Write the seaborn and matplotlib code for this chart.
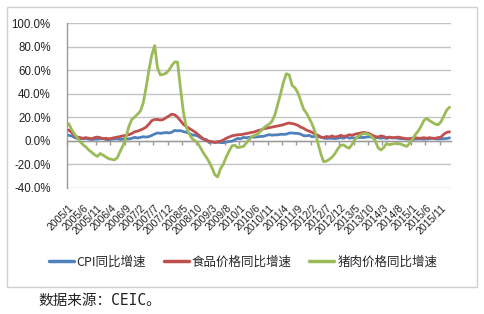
import numpy as np
import pandas as pd
import matplotlib
matplotlib.use("Agg")
import matplotlib.pyplot as plt
from matplotlib.patches import Rectangle
from matplotlib.lines import Line2D
import seaborn as sns

# ---------------- data ----------------
months = [f"{y}/{m}" for y in range(2005, 2016) for m in range(1, 13)] + ["2016/1", "2016/2"]

cpi = [
    4.5, 3.9, 2.7, 1.8, 1.8, 1.6, 1.8, 1.3, 0.9, 1.2, 1.3, 1.6,
    1.9, 0.9, 0.8, 1.2, 1.4, 1.5, 1.0, 1.3, 1.5, 1.4, 1.9, 2.8,
    2.2, 2.7, 3.3, 3.0, 3.4, 4.4, 5.6, 6.5, 6.2, 6.5, 6.9, 6.5,
    7.1, 8.7, 8.3, 8.5, 7.7, 7.1, 6.3, 4.9, 4.6, 4.0, 2.4, 1.2,
    1.0, -1.6, -1.2, -1.5, -1.4, -1.7, -1.8, -1.2, -0.8, -0.5, 0.6, 1.9,
    1.5, 2.7, 2.4, 2.8, 3.1, 2.9, 3.3, 3.5, 3.6, 4.4, 5.1, 4.6,
    4.9, 4.9, 5.4, 5.3, 5.5, 6.4, 6.5, 6.2, 6.1, 5.5, 4.2, 4.1,
    4.5, 3.2, 3.6, 3.4, 3.0, 2.2, 1.8, 2.0, 1.9, 1.7, 2.0, 2.5,
    2.0, 3.2, 2.1, 2.4, 2.1, 2.7, 2.7, 2.6, 3.1, 3.2, 3.0, 2.5,
    2.5, 2.0, 2.4, 1.8, 2.5, 2.3, 2.3, 2.0, 1.6, 1.6, 1.4, 1.5,
    0.8, 1.4, 1.4, 1.5, 1.2, 1.4, 1.6, 2.0, 1.6, 1.3, 1.5, 1.6,
    1.8, 2.3,
]

food = [
    9, 7, 4, 3, 2.5, 2, 2.5, 2, 1.5, 2.5, 3, 2.5,
    1.5, 2, 1.5, 2, 2.5, 3, 3.5, 4, 4.5, 5, 6, 7.5,
    8, 9, 10, 11.5, 14, 17, 18, 18, 17.5, 18, 19.5, 21,
    22.5, 22, 20, 17, 14, 12, 10.5, 9, 7.5, 5.5, 3.5, 1.5,
    0, -0.5, -1, -1.5, -1, -0.5, 0.5, 2, 3, 4, 4.5, 5,
    5, 5.5, 6, 6.5, 7, 7.5, 8.5, 9, 10, 10.5, 11, 11.5,
    12, 12.5, 13, 13.5, 14.5, 15, 14.5, 14, 13, 11.5, 10.5, 9,
    8, 7, 5.5, 4.5, 3, 2.5, 3.5, 3, 4, 3, 3.5, 4.5,
    3.5, 4, 5, 4.5, 5.5, 6, 6.5, 7, 6.5, 6, 4.5, 3.5,
    3, 4, 3.5, 2.5, 3, 2.5, 2.5, 3, 2.5, 2, 1.5, 1.5,
    2, 2.5, 2, 2, 2.5, 2, 2.5, 2, 2, 2.5, 3, 5.5,
    7, 7.5,
]

pork = [
    14.5, 9.5, 5.5, 2.5, -1, -3.5, -5.5, -8, -10, -12, -13.5, -11,
    -12.5, -14, -15.5, -16, -16.5, -14.5, -9, -4, 3, 12, 18, 20,
    22.5, 25, 32, 45, 60, 73, 81, 62, 56, 56.5, 57.5, 60,
    64, 67, 67, 45, 25, 12, 6, 2, 0, -2, -6, -10.5,
    -14, -18, -23, -29, -31, -24, -20, -14, -9, -4.5, -4, -6,
    -5.5, -5, -2, 1, 3.5, 4.5, 5.5, 8, 10.5, 12.5, 14, 16.5,
    22, 31, 40, 50, 57, 56, 47, 45, 41, 34, 27, 23.5,
    19, 14, 7.5, -2, -11, -18, -17.5, -16, -14, -11, -7, -4,
    -3.7, -5.5, -6.5, -3, 1, 3.5, 5, 6, 6, 5, 3, 0,
    -6, -8, -6, -2.5, -3.5, -3, -2.5, -2.5, -3, -4, -5, -2.5,
    1, 5, 8, 12, 17, 19, 17, 15.5, 14, 13.5, 16, 21,
    26, 28.5,
]

series_names = ["CPI同比增速", "食品价格同比增速", "猪肉价格同比增速"]
colors = ["#4F81BD", "#C0504D", "#9BBB59"]
y_ticks = [-40, -20, 0, 20, 40, 60, 80, 100]
tick_step = 5

# ---------------- figure ----------------
sns.set_style("white")
plt.rcParams["font.family"] = ["Liberation Sans", "Noto Sans CJK SC", "DejaVu Sans"]

n = len(months)
idx = np.arange(n)
df = pd.DataFrame({
    "idx": np.concatenate([idx, idx, idx]),
    "value": np.concatenate([cpi, food, pork]),
    "series": np.repeat(series_names, n),
})

fig = plt.figure(figsize=(4.84, 3.14), dpi=100)
ax = fig.add_axes([67.3 / 484, 1 - 187.5 / 314, (451 - 67.3) / 484, (187.5 - 23.3) / 314])

for y in y_ticks:
    ax.axhline(y, color="#C4C4C4", lw=1.0, zorder=0)

sns.lineplot(data=df, x="idx", y="value", hue="series", hue_order=series_names,
             palette=colors, lw=2.0, ax=ax, legend=False, zorder=3)

ax.set_xlim(-0.5, n - 0.5)
ax.set_ylim(-40, 100)
ax.set_yticks(y_ticks)
ax.set_yticklabels([f"{v:.1f}%" for v in y_ticks], fontsize=8.3, color="#222222")
ax.tick_params(axis="y", length=0, pad=12)

lab_idx = list(range(0, n - 3, tick_step))
ax.set_xticks(lab_idx)
ax.set_xticklabels([months[i] for i in lab_idx], rotation=45, ha="right",
                   va="top", rotation_mode="anchor", fontsize=7.5, color="#222222")
ax.tick_params(axis="x", length=0, pad=11)
ax.set_xlabel("")
ax.set_ylabel("")

for s in ["top", "right", "bottom"]:
    ax.spines[s].set_visible(False)
ax.spines["left"].set_color("#9A9A9A")
ax.spines["left"].set_linewidth(1.0)

# category axis crossing at 0 with tick marks
sec = ax.secondary_xaxis(40 / 140)
sec.set_xticks([i - 0.5 for i in range(0, n, tick_step)])
sec.set_xticklabels([])
sec.tick_params(axis="x", direction="out", length=3, color="#9A9A9A", width=1.0)
sec.spines["bottom"].set_color("#9A9A9A")
sec.spines["bottom"].set_linewidth(1.0)

# legend
handles = [Line2D([0], [0], color=c, lw=2.5) for c in colors]
fig.legend(handles, series_names, loc="center", bbox_to_anchor=(243 / 484, 1 - 262 / 314),
           ncol=3, frameon=False, handlelength=2.0, handletextpad=0.25,
           columnspacing=1.4, prop={"family": ["Noto Sans CJK SC"], "size": 9})

# outer chart border
fig.patches.append(Rectangle((7 / 484, 1 - 287 / 314), 470 / 484, 280 / 314,
                             transform=fig.transFigure, fill=False, ec="#D0D0D0", lw=1.0))

fig.text(38 / 484, 1 - 300 / 314, "数据来源：CEIC。", fontsize=10.5, va="center",
         family=["DejaVu Sans Mono", "Noto Sans CJK SC"], color="#222222")

fig.savefig("out.png", dpi=100)
